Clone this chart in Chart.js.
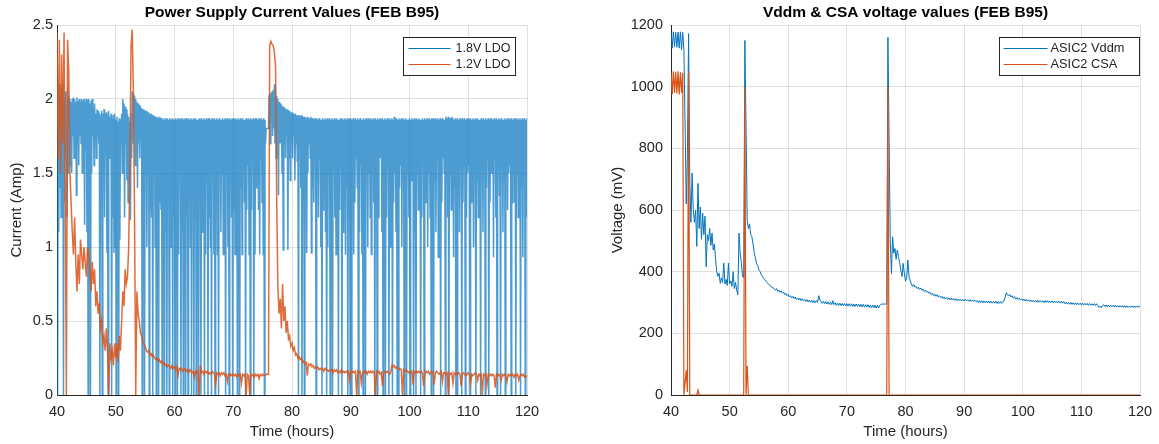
<!DOCTYPE html>
<html>
<head>
<meta charset="utf-8">
<title>FEB B95 supply monitoring</title>
<script src="https://cdn.jsdelivr.net/npm/chart.js@4.4.1/dist/chart.umd.min.js"></script>
<style>
  body { margin: 0; background: #fff; width: 1159px; height: 444px; overflow: hidden; position: relative; }
  canvas { position: absolute; top: 0; }
  #currentChart { left: 0; }
  #voltageChart { left: 580px; }
</style>
</head>
<body>
<canvas id="currentChart" width="580" height="444"></canvas>
<canvas id="voltageChart" width="579" height="444"></canvas>
<script>
// Logging runs from 40 h; the 1.8V channel is read every 0.1 h, the others every 0.2 h
const firstHour = 40;
const fastStep = 0.1;
const slowStep = 0.2;

// Axis tick values
const hourTicks = [40, 50, 60, 70, 80, 90, 100, 110, 120];
const ampTicks = [0, 0.5, 1, 1.5, 2, 2.5];
const mvTicks = [0, 200, 400, 600, 800, 1000, 1200];

// 1.8V LDO current (A), one row = 1 hour
const ldo18Amps = [
  1.6, 0.0, 2.05, 1.1, 2.1, 1.4, 2.0, 1.2, 2.08, 1.55,
  2.1, 0.0, 2.0, 1.3, 2.05, 1.6, 1.95, 1.2, 2.08, 1.5,
  2.02, 1.55, 2.0, 1.7, 1.98, 1.5, 2.0, 1.75, 2.01, 1.6,
  2.0, 1.8, 1.98, 1.35, 2.01, 1.7, 1.99, 1.55, 2.0, 1.75,
  1.98, 1.7, 2.0, 1.5, 1.99, 1.8, 2.0, 1.15, 1.98, 1.65,
  2.0, 1.1, 1.99, 0.0, 2.0, 1.7, 1.97, 0.0, 1.99, 1.5,
  2.0, 1.75, 1.95, 1.55, 1.97, 1.8, 1.9, 1.6, 1.93, 1.75,
  1.92, 1.7, 1.9, 0.0, 1.88, 1.5, 1.92, 0.0, 1.9, 1.6,
  1.93, 1.2, 1.9, 1.7, 1.91, 0.96, 1.89, 0.0, 1.92, 1.6,
  1.88, 1.75, 1.9, 0.0, 1.87, 1.2, 1.89, 0.96, 1.9, 1.0,
  1.86, 0.0, 1.88, 1.7, 1.85, 0.0, 1.87, 1.05, 1.86, 1.75,
  1.9, 1.5, 2.0, 1.8, 1.97, 1.2, 1.95, 1.7, 1.93, 1.45,
  1.9, 1.3, 1.88, 1.7, 1.85, 1.18, 1.9, 1.6, 2.05, 1.7,
  2.03, 1.8, 2.02, 1.55, 2.0, 1.75, 1.98, 1.4, 1.97, 1.7,
  1.96, 1.6, 1.95, 1.75, 1.94, 0.0, 1.93, 1.3, 1.93, 0.0,
  1.92, 1.5, 1.92, 1.0, 1.91, 1.7, 1.91, 0.0, 1.9, 1.25,
  1.9, 1.2, 1.89, 0.0, 1.89, 1.6, 1.88, 1.0, 1.88, 0.0,
  1.88, 1.7, 1.87, 0.0, 1.88, 1.3, 1.87, 1.25, 1.87, 0.0,
  1.87, 1.5, 1.86, 0.0, 1.87, 1.1, 1.86, 0.0, 1.87, 1.6,
  1.86, 0.0, 1.87, 1.0, 1.86, 1.4, 1.87, 0.0, 1.86, 1.2,
  1.86, 0.0, 1.87, 1.3, 1.86, 0.0, 1.87, 0.95, 1.86, 1.6,
  1.87, 0.0, 1.86, 1.1, 1.87, 0.0, 1.86, 1.5, 1.87, 0.0,
  1.87, 1.2, 1.86, 0.0, 1.87, 1.4, 1.86, 1.0, 1.87, 0.0,
  1.86, 1.6, 1.87, 0.0, 1.86, 1.2, 1.87, 0.0, 1.86, 1.0,
  1.86, 0.0, 1.87, 1.35, 1.86, 0.0, 1.87, 1.1, 1.86, 1.6,
  1.87, 0.0, 1.86, 0.95, 1.87, 1.45, 1.86, 0.0, 1.87, 1.2,
  1.87, 1.0, 1.86, 0.0, 1.87, 1.5, 1.86, 0.95, 1.87, 0.0,
  1.86, 1.3, 1.87, 0.95, 1.86, 0.0, 1.87, 1.6, 1.86, 1.1,
  1.86, 1.5, 1.87, 0.95, 1.86, 1.25, 1.87, 0.0, 1.86, 1.6,
  1.87, 1.0, 1.86, 0.0, 1.87, 1.45, 1.86, 1.2, 1.87, 0.0,
  1.87, 1.25, 1.86, 0.95, 1.87, 1.6, 1.86, 0.0, 1.87, 1.1,
  1.86, 0.0, 1.87, 1.4, 1.86, 0.95, 1.87, 1.6, 1.86, 1.3,
  1.86, 0.0, 1.87, 1.25, 1.86, 1.55, 1.87, 0.95, 1.86, 0.0,
  1.87, 1.25, 1.86, 1.6, 1.87, 0.0, 1.86, 0.95, 1.87, 1.4,
  1.87, 1.5, 1.86, 1.25, 1.87, 0.95, 1.86, 1.6, 1.87, 1.3,
  1.86, 0.95, 1.87, 0.0, 1.86, 1.7, 1.8, 1.8, 1.8, 1.8,
  1.8, 2.02, 2.03, 1.7, 2.04, 2.02, 2.05, 1.75, 2.06, 1.8,
  2.1, 1.7, 2.05, 1.6, 2.02, 1.75, 2.0, 1.35, 1.98, 1.7,
  1.97, 1.7, 1.96, 1.5, 1.95, 0.98, 1.95, 1.7, 1.94, 1.6,
  1.93, 1.75, 1.93, 0.98, 1.92, 1.6, 1.92, 1.45, 1.91, 1.7,
  1.91, 1.6, 1.9, 1.75, 1.9, 1.45, 1.9, 1.7, 1.89, 1.58,
  1.89, 0.0, 1.89, 1.7, 1.88, 1.4, 1.89, 0.0, 1.88, 1.6,
  1.88, 0.0, 1.88, 1.6, 1.87, 0.96, 1.88, 1.5, 1.87, 1.7,
  1.87, 1.6, 1.88, 0.96, 1.87, 1.4, 1.87, 1.3, 1.86, 1.7,
  1.87, 0.0, 1.87, 1.5, 1.86, 1.2, 1.87, 1.6, 1.86, 1.0,
  1.86, 0.0, 1.87, 1.25, 1.86, 1.6, 1.87, 1.1, 1.86, 0.0,
  1.87, 1.0, 1.86, 1.5, 1.87, 0.0, 1.86, 1.3, 1.87, 0.0,
  1.86, 1.6, 1.87, 1.2, 1.86, 0.95, 1.87, 1.5, 1.86, 0.0,
  1.86, 1.25, 1.87, 1.55, 1.86, 0.0, 1.87, 1.1, 1.86, 1.6,
  1.87, 0.95, 1.86, 1.4, 1.87, 0.0, 1.86, 1.2, 1.87, 0.0,
  1.87, 0.0, 1.86, 1.5, 1.87, 0.95, 1.86, 1.3, 1.87, 1.6,
  1.86, 1.4, 1.87, 0.0, 1.86, 1.1, 1.87, 1.55, 1.86, 0.95,
  1.86, 0.0, 1.87, 1.3, 1.86, 0.0, 1.87, 1.6, 1.86, 1.0,
  1.87, 1.5, 1.86, 1.2, 1.87, 0.95, 1.86, 1.6, 1.87, 1.3,
  1.86, 0.0, 1.87, 1.45, 1.86, 0.0, 1.87, 1.2, 1.86, 1.6,
  1.87, 1.6, 1.86, 1.1, 1.87, 0.0, 1.86, 1.4, 1.87, 0.0,
  1.86, 1.2, 1.87, 1.55, 1.86, 0.0, 1.87, 1.0, 1.86, 1.5,
  1.87, 0.0, 1.86, 1.3, 1.88, 1.5, 1.87, 1.1, 1.87, 0.0,
  1.86, 0.0, 1.87, 1.4, 1.86, 1.55, 1.87, 1.0, 1.86, 1.6,
  1.87, 0.0, 1.86, 1.3, 1.87, 0.0, 1.86, 1.5, 1.86, 1.2,
  1.87, 0.0, 1.86, 1.45, 1.87, 1.6, 1.86, 0.0, 1.87, 1.1,
  1.86, 0.0, 1.87, 1.5, 1.86, 1.25, 1.87, 1.6, 1.86, 0.0,
  1.86, 1.2, 1.87, 1.6, 1.86, 0.0, 1.87, 1.3, 1.86, 1.55,
  1.87, 1.0, 1.86, 1.5, 1.87, 1.2, 1.86, 0.0, 1.87, 1.6,
  1.87, 0.0, 1.86, 1.45, 1.87, 1.1, 1.86, 1.6, 1.87, 0.93,
  1.86, 1.5, 1.87, 0.0, 1.86, 1.3, 1.87, 1.6, 1.86, 1.5,
  1.86, 0.0, 1.88, 1.6, 1.87, 1.2, 1.88, 0.0, 1.87, 1.5,
  1.87, 1.25, 1.88, 1.55, 1.87, 0.93, 1.86, 1.4, 1.87, 0.0,
  1.86, 0.0, 1.87, 1.5, 1.86, 1.1, 1.87, 1.6, 1.86, 0.0,
  1.87, 1.3, 1.86, 1.55, 1.87, 0.0, 1.86, 1.2, 1.87, 1.5,
  1.87, 1.55, 1.86, 0.0, 1.87, 1.3, 1.86, 1.6, 1.87, 1.0,
  1.86, 1.5, 1.87, 0.0, 1.86, 1.45, 1.87, 1.2, 1.86, 1.6,
  1.86, 0.0, 1.87, 1.55, 1.86, 1.1, 1.87, 1.6, 1.86, 0.0,
  1.87, 1.4, 1.86, 1.6, 1.87, 0.0, 1.86, 1.3, 1.87, 1.5,
  1.87, 1.5, 1.86, 0.93, 1.87, 1.6, 1.86, 1.2, 1.87, 0.0,
  1.86, 1.6, 1.87, 1.35, 1.86, 0.0, 1.87, 1.55, 1.86, 1.1,
  1.86, 1.45, 1.87, 0.0, 1.86, 1.6, 1.87, 1.25, 1.86, 1.5,
  1.87, 1.55, 1.86, 0.0, 1.87, 1.3, 1.86, 1.6, 1.87, 1.3,
  1.87, 0.0, 1.86, 1.5, 1.87, 1.2, 1.86, 1.6, 1.87, 0.0,
  1.86, 1.4, 1.87, 0.93, 1.86, 1.55, 1.87, 0.0, 1.86, 1.2,
  1.87
];

// 1.2V LDO current (A), one row = 2 hours
const ldo12Amps = [
  2.45, 1.6, 2.4, 1.5, 2.3, 1.7, 2.45, 1.3, 0.0, 2.4,
  2.2, 1.5, 1.3, 1.1, 0.95, 1.2, 0.9, 0.7, 0.95, 0.75,
  1.05, 0.95, 0.85, 1.0, 0.9, 0.8, 1.0, 0.95, 0.85, 0.7,
  0.9, 0.75, 0.85, 0.6, 0.7, 0.55, 0.62, 0.45, 0.5, 0.35,
  0.4, 0.3, 0.45, 0.3, 0.0, 0.35, 0.25, 0.3, 0.2, 0.35,
  0.25, 0.35, 0.22, 0.4, 0.3, 0.5, 0.7, 0.6, 0.85, 0.75,
  0.8, 1.0, 1.5, 2.35, 2.47, 2.05, 1.2, 0.0, 0.7, 0.55,
  0.5, 0.42, 0.4, 0.36, 0.34, 0.33, 0.3, 0.29, 0.3, 0.27,
  0.28, 0.26, 0.27, 0.25, 0.24, 0.25, 0.23, 0.24, 0.22, 0.23,
  0.21, 0.22, 0.2, 0.21, 0.19, 0.2, 0.19, 0.18, 0.2, 0.18,
  0.19, 0.17, 0.19, 0.13, 0.18, 0.17, 0.18, 0.16, 0.17, 0.18,
  0.16, 0.17, 0.15, 0.17, 0.16, 0.15, 0.16, 0.12, 0.16, 0.15,
  0.16, 0.0, 0.2, 0.15, 0.16, 0.14, 0.16, 0.15, 0.16, 0.14,
  0.15, 0.14, 0.16, 0.15, 0.14, 0.07, 0.15, 0.14, 0.15, 0.13,
  0.15, 0.14, 0.15, 0.13, 0.14, 0.09, 0.14, 0.13, 0.14, 0.13,
  0.14, 0.13, 0.14, 0.12, 0.14, 0.13, 0.14, 0.08, 0.14, 0.13,
  0.14, 0.0, 0.14, 0.13, 0.0, 0.14, 0.13, 0.14, 0.12, 0.14,
  0.13, 0.14, 0.11, 0.14, 0.13, 0.14, 0.13, 0.13, 0.14, 0.14,
  0.14, 2.36, 2.39, 2.37, 2.36, 2.32, 2.22, 1.3, 0.72, 0.55,
  0.65, 0.45, 0.75, 0.5, 0.6, 0.42, 0.5, 0.38, 0.4, 0.33,
  0.35, 0.3, 0.32, 0.27, 0.28, 0.25, 0.26, 0.24, 0.25, 0.22,
  0.23, 0.21, 0.22, 0.13, 0.21, 0.2, 0.21, 0.19, 0.2, 0.18,
  0.19, 0.18, 0.19, 0.17, 0.18, 0.17, 0.18, 0.16, 0.18, 0.17,
  0.17, 0.16, 0.17, 0.16, 0.17, 0.15, 0.17, 0.16, 0.17, 0.15,
  0.16, 0.15, 0.17, 0.15, 0.16, 0.15, 0.16, 0.15, 0.16, 0.1,
  0.16, 0.15, 0.16, 0.15, 0.16, 0.0, 0.16, 0.15, 0.16, 0.08,
  0.15, 0.16, 0.15, 0.16, 0.14, 0.16, 0.15, 0.16, 0.15, 0.16,
  0.15, 0.0, 0.16, 0.15, 0.16, 0.14, 0.15, 0.06, 0.15, 0.16,
  0.15, 0.16, 0.15, 0.14, 0.15, 0.2, 0.19, 0.2, 0.18, 0.19,
  0.18, 0.17, 0.18, 0.17, 0.0, 0.17, 0.16, 0.17, 0.16, 0.15,
  0.16, 0.15, 0.16, 0.07, 0.16, 0.15, 0.16, 0.15, 0.16, 0.15,
  0.16, 0.15, 0.06, 0.15, 0.16, 0.15, 0.16, 0.14, 0.15, 0.16,
  0.15, 0.07, 0.15, 0.16, 0.15, 0.14, 0.15, 0.16, 0.09, 0.15,
  0.15, 0.14, 0.15, 0.0, 0.15, 0.14, 0.15, 0.08, 0.15, 0.14,
  0.15, 0.14, 0.15, 0.14, 0.06, 0.14, 0.15, 0.14, 0.13, 0.14,
  0.15, 0.14, 0.08, 0.14, 0.13, 0.14, 0.15, 0.14, 0.1, 0.14,
  0.13, 0.14, 0.0, 0.14, 0.13, 0.14, 0.07, 0.14, 0.13, 0.14,
  0.13, 0.14, 0.13, 0.05, 0.14, 0.13, 0.14, 0.13, 0.1, 0.14,
  0.13, 0.14, 0.13, 0.09, 0.14, 0.13, 0.14, 0.13, 0.14, 0.12,
  0.14, 0.13, 0.14, 0.1, 0.13, 0.14, 0.13, 0.14, 0.12, 0.13,
  0.12
];

// ASIC2 Vddm (mV), one row = 2 hours
const vddmMv = [
  1175, 1125, 1178, 1130, 1176, 1128, 1177, 1125, 1178, 1120,
  1176, 1120, 880, 620, 780, 1172, 700, 560, 720, 600,
  560, 600, 482, 686, 540, 610, 505, 590, 520, 580,
  416, 520, 500, 540, 485, 525, 470, 490, 440, 400,
  385, 395, 362, 380, 365, 428, 360, 375, 355, 428,
  360, 370, 352, 400, 345, 365, 341, 325, 525, 460,
  430, 385, 380, 1150, 870, 565, 540, 555, 520, 513,
  490, 460, 445, 425, 420, 405, 400, 390, 385, 378,
  375, 369, 365, 360, 358, 352, 350, 347, 345, 340,
  345, 336, 340, 333, 338, 330, 334, 326, 330, 322,
  326, 318, 322, 315, 320, 312, 318, 310, 315, 308,
  314, 306, 312, 305, 310, 303, 309, 302, 308, 301,
  307, 300, 306, 299, 306, 300, 322, 308, 303, 297,
  304, 296, 303, 295, 302, 294, 301, 293, 306, 293,
  299, 291, 298, 290, 298, 290, 297, 289, 297, 289,
  296, 288, 296, 288, 296, 287, 295, 287, 295, 287,
  295, 286, 294, 286, 294, 285, 293, 285, 293, 284,
  292, 283, 292, 283, 291, 282, 291, 282, 290, 294,
  295, 295, 295, 295, 295, 1160, 830, 503, 394, 513,
  460, 475, 440, 470, 449, 430, 405, 384, 427, 395,
  369, 380, 438, 384, 370, 360, 352, 358, 350, 352,
  345, 350, 342, 347, 340, 343, 336, 340, 333, 336,
  330, 333, 326, 330, 322, 327, 320, 325, 318, 322,
  315, 320, 313, 318, 311, 316, 310, 315, 309, 314,
  308, 313, 307, 312, 306, 311, 306, 311, 305, 310,
  305, 310, 305, 309, 304, 309, 304, 308, 303, 308,
  303, 306, 300, 306, 299, 306, 299, 305, 299, 305,
  299, 305, 298, 304, 298, 304, 298, 304, 297, 303,
  297, 303, 297, 303, 305, 318, 332, 325, 321, 326,
  318, 322, 314, 319, 311, 316, 310, 314, 308, 312,
  306, 311, 305, 310, 304, 309, 303, 308, 302, 307,
  302, 307, 301, 307, 301, 306, 301, 306, 300, 306,
  300, 306, 300, 305, 300, 305, 299, 305, 299, 304,
  299, 304, 298, 304, 298, 303, 296, 301, 295, 300,
  294, 300, 294, 299, 293, 299, 293, 298, 293, 298,
  292, 298, 292, 297, 292, 297, 291, 297, 291, 296,
  291, 296, 290, 296, 290, 284, 288, 283, 290, 293,
  287, 292, 286, 292, 286, 291, 286, 291, 285, 291,
  285, 290, 285, 290, 285, 290, 284, 290, 284, 289,
  284, 289, 284, 289, 284, 289, 284, 289, 284, 289,
  286
];

// ASIC2 CSA (mV), one row = 2 hours
const csaMv = [
  1045, 975, 1050, 980, 1048, 978, 1050, 975, 1047, 980,
  1045, 0, 40, 80, 10, 1050, 0, 0, 0, 0,
  0, 0, 0, 16, 0, 0, 0, 0, 0, 0,
  0, 0, 0, 0, 0, 0, 0, 0, 0, 0,
  0, 0, 0, 0, 0, 0, 0, 0, 0, 0,
  0, 0, 0, 0, 0, 0, 0, 0, 0, 0,
  0, 0, 0, 1000, 0, 95, 0, 0, 0, 0,
  0, 0, 0, 0, 0, 0, 0, 0, 0, 0,
  0, 0, 0, 0, 0, 0, 0, 0, 0, 0,
  0, 0, 0, 0, 0, 0, 0, 0, 0, 0,
  0, 0, 0, 0, 0, 0, 0, 0, 0, 0,
  0, 0, 0, 0, 0, 0, 0, 0, 0, 0,
  0, 0, 0, 0, 0, 0, 0, 0, 0, 0,
  0, 0, 0, 0, 0, 0, 0, 0, 0, 0,
  0, 0, 0, 0, 0, 0, 0, 0, 0, 0,
  0, 0, 0, 0, 0, 0, 0, 0, 0, 0,
  0, 0, 0, 0, 0, 0, 0, 0, 0, 0,
  0, 0, 0, 0, 0, 0, 0, 0, 0, 0,
  0, 0, 0, 0, 0, 1000, 0, 0, 0, 0,
  0, 0, 0, 0, 0, 0, 0, 0, 0, 0,
  0, 0, 0, 0, 0, 0, 0, 0, 0, 0,
  0, 0, 0, 0, 0, 0, 0, 0, 0, 0,
  0, 0, 0, 0, 0, 0, 0, 0, 0, 0,
  0, 0, 0, 0, 0, 0, 0, 0, 0, 0,
  0, 0, 0, 0, 0, 0, 0, 0, 0, 0,
  0, 0, 0, 0, 0, 0, 0, 0, 0, 0,
  0, 0, 0, 0, 0, 0, 0, 0, 0, 0,
  0, 0, 0, 0, 0, 0, 0, 0, 0, 0,
  0, 0, 0, 0, 0, 0, 0, 0, 0, 0,
  0, 0, 0, 0, 0, 0, 0, 0, 0, 0,
  0, 0, 0, 0, 0, 0, 0, 0, 0, 0,
  0, 0, 0, 0, 0, 0, 0, 0, 0, 0,
  0, 0, 0, 0, 0, 0, 0, 0, 0, 0,
  0, 0, 0, 0, 0, 0, 0, 0, 0, 0,
  0, 0, 0, 0, 0, 0, 0, 0, 0, 0,
  0, 0, 0, 0, 0, 0, 0, 0, 0, 0,
  0, 0, 0, 0, 0, 0, 0, 0, 0, 0,
  0, 0, 0, 0, 0, 0, 0, 0, 0, 0,
  0, 0, 0, 0, 0, 0, 0, 0, 0, 0,
  0, 0, 0, 0, 0, 0, 0, 0, 0, 0,
  0
];

const blue = 'rgb(0,114,189)';
const orange = 'rgb(217,83,25)';
const inkColor = '#262626';
const gridColor = '#dfdfdf';
const family = '"Liberation Sans", Arial, Helvetica, sans-serif';

// pair each reading with its logging time
function timed(values, step) {
  return values.map((v, i) => ({ x: firstHour + i * step, y: v }));
}

// MATLAB-like legend: line sample + label inside a framed box
const boxedLegend = {
  id: 'boxedLegend',
  afterDatasetsDraw(chart, args, opts) {
    const { ctx, chartArea } = chart;
    const left = Math.round(chartArea.right - opts.insetRight - opts.width) + 0.5;
    const top = Math.round(chartArea.top + opts.insetTop) + 0.5;
    ctx.save();
    ctx.fillStyle = '#fff';
    ctx.fillRect(left, top, opts.width, opts.height);
    ctx.strokeStyle = inkColor;
    ctx.lineWidth = 1;
    ctx.strokeRect(left, top, opts.width, opts.height);
    ctx.font = opts.fontSize + 'px ' + family;
    ctx.textBaseline = 'middle';
    opts.labels.forEach((entry, i) => {
      const y = top + opts.firstRow + i * opts.rowGap;
      ctx.strokeStyle = entry.color;
      ctx.beginPath();
      ctx.moveTo(left + opts.lineStart, y);
      ctx.lineTo(left + opts.lineEnd, y);
      ctx.stroke();
      ctx.fillStyle = inkColor;
      ctx.fillText(entry.text, left + opts.textX, y);
    });
    ctx.restore();
  }
};

function lineSet(label, points, color, width, order) {
  return {
    label: label,
    data: points,
    borderColor: color,
    borderWidth: width,
    pointRadius: 0,
    tension: 0,
    order: order
  };
}

function buildOptions(cfg) {
  return {
    responsive: false,
    animation: false,
    devicePixelRatio: 1,
    layout: { padding: { left: 0, right: cfg.padRight, top: 0, bottom: 0 } },
    plugins: {
      legend: { display: false },
      tooltip: { enabled: false },
      title: {
        display: true,
        fullSize: false,
        text: cfg.title,
        color: '#000',
        font: { family: family, size: 15.5, weight: 'bold' },
        padding: { top: 3.2, bottom: 3.2 }
      },
      boxedLegend: cfg.legend
    },
    scales: {
      x: {
        type: 'linear',
        min: 40,
        max: 120,
        afterBuildTicks: s => { s.ticks = hourTicks.map(v => ({ value: v })); },
        afterFit: s => { s.height = 49; s.paddingLeft = 0; s.paddingRight = 0; },
        grid: { color: gridColor, drawTicks: false },
        border: { color: inkColor, width: 1 },
        ticks: { color: inkColor, font: { family: family, size: 14.5 }, padding: 8, maxRotation: 0, autoSkip: false, callback: v => String(v) },
        title: { display: true, text: 'Time (hours)', color: inkColor, font: { family: family, size: 15 }, padding: { top: 0, bottom: 3 } }
      },
      y: {
        type: 'linear',
        min: cfg.yTicks[0],
        max: cfg.yTicks[cfg.yTicks.length - 1],
        afterBuildTicks: s => { s.ticks = cfg.yTicks.map(v => ({ value: v })); },
        afterFit: s => { s.width = cfg.yWidth; s.paddingTop = 0; s.paddingBottom = 0; },
        grid: { color: gridColor, drawTicks: false },
        border: { color: inkColor, width: 1 },
        ticks: { color: inkColor, font: { family: family, size: 14.5 }, padding: cfg.tickPad, autoSkip: false, callback: v => String(v) },
        title: { display: true, text: cfg.yTitle, color: inkColor, font: { family: family, size: 15 }, padding: { top: cfg.yTitlePad, bottom: 0 } }
      }
    }
  };
}

new Chart(document.getElementById('currentChart'), {
  type: 'line',
  data: {
    datasets: [
      lineSet('1.8V LDO', timed(ldo18Amps, fastStep), 'rgba(0,114,189,0.7)', 1.5, 2),
      lineSet('1.2V LDO', timed(ldo12Amps, slowStep), 'rgba(217,83,25,0.85)', 1.5, 1)
    ]
  },
  options: buildOptions({
    title: 'Power Supply Current Values (FEB B95)',
    yTitle: 'Current (Amp)',
    yTicks: ampTicks,
    yWidth: 57,
    tickPad: 4,
    yTitlePad: 8,
    padRight: 53,
    legend: {
      insetRight: 12, insetTop: 12, width: 112, height: 38,
      firstRow: 11, rowGap: 16, lineStart: 5, lineEnd: 47, textX: 52, fontSize: 12.5,
      labels: [{ text: '1.8V LDO', color: blue }, { text: '1.2V LDO', color: orange }]
    }
  }),
  plugins: [boxedLegend]
});

new Chart(document.getElementById('voltageChart'), {
  type: 'line',
  data: {
    datasets: [
      lineSet('ASIC2 Vddm', timed(vddmMv, slowStep), blue, 1, 2),
      lineSet('ASIC2 CSA', timed(csaMv, slowStep), orange, 1.2, 1)
    ]
  },
  options: buildOptions({
    title: 'Vddm & CSA voltage values (FEB B95)',
    yTitle: 'Voltage (mV)',
    yTicks: mvTicks,
    yWidth: 91,
    tickPad: 8,
    yTitlePad: 29,
    padRight: 19,
    legend: {
      insetRight: 1, insetTop: 12, width: 140, height: 38,
      firstRow: 11, rowGap: 16, lineStart: 4, lineEnd: 48, textX: 51, fontSize: 12.8,
      labels: [{ text: 'ASIC2 Vddm', color: blue }, { text: 'ASIC2 CSA', color: orange }]
    }
  }),
  plugins: [boxedLegend]
});
</script>
</body>
</html>
